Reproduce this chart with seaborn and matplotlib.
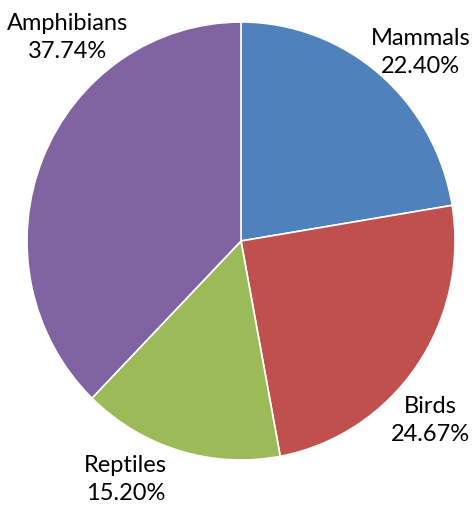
import matplotlib
matplotlib.use("Agg")
import matplotlib.pyplot as plt
import seaborn as sns

# data
classes = ["Mammals", "Birds", "Reptiles", "Amphibians"]
shares = [22.40, 24.67, 15.20, 37.74]
colors = ["#4F81BD", "#C0504D", "#9BBB59", "#8064A2"]

# label spots (axes data units, pie radius = 1)
label_pos = [(0.84, 0.86), (0.885, -0.82), (-0.54, -1.09), (-0.81, 0.93)]

sns.set_theme(style="white")
plt.rcParams["font.family"] = ["Lato", "DejaVu Sans"]

fig = plt.figure(figsize=(4.73, 5.08), dpi=100)
ax = fig.add_axes([27 / 473, 48 / 508, 428 / 473, 438 / 508])

wedges, _ = ax.pie(
    shares,
    colors=colors,
    startangle=90,
    counterclock=False,
    wedgeprops=dict(edgecolor="white", linewidth=1.2),
)
ax.set_aspect("auto")
ax.set_xlim(-1, 1)
ax.set_ylim(-1, 1)
ax.axis("off")

for name, val, (x, y) in zip(classes, shares, label_pos):
    ax.text(x, y, f"{name}\n{val:.2f}%", ha="center", va="center",
            fontsize=17, color="black", linespacing=1.4, clip_on=False)

fig.savefig("out.png", dpi=100)
